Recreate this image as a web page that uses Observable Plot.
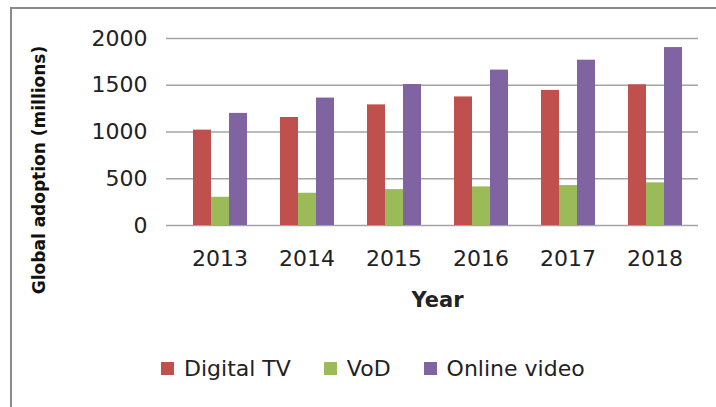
<!DOCTYPE html>
<html>
<head>
<meta charset="utf-8">
<script src="https://cdn.jsdelivr.net/npm/d3@7"></script>
<script src="https://cdn.jsdelivr.net/npm/@observablehq/plot@0.6"></script>
<style>
  html, body { margin: 0; padding: 0; background: #fff; width: 716px; height: 407px; overflow: hidden; }
  #wrap { position: relative; width: 716px; height: 407px; }
  #border { position: absolute; left: 10px; top: 7px; width: 800px; height: 500px; border: 2px solid #8a8a8a; box-sizing: border-box; }
  #chart { position: absolute; left: 0; top: 0; }
  #chart [aria-label="fx-axis label"] text { font-weight: bold; font-size: 21px; }
  #legend { position: absolute; left: 161px; top: 356px; display: flex; align-items: center; font-family: "DejaVu Sans", sans-serif; font-size: 22px; color: #222; white-space: nowrap; }
  .item { display: flex; align-items: center; margin-right: 33px; }
  .sw { width: 13px; height: 13px; margin-right: 10px; }
</style>
</head>
<body>
<div id="wrap">
  <div id="border"></div>
  <div id="chart"></div>
  <div id="legend"></div>
</div>
<script>
const years = ["2013", "2014", "2015", "2016", "2017", "2018"];
const seriesNames = ["Digital TV", "VoD", "Online video"];
const digitalTV = [1020, 1155, 1290, 1375, 1445, 1505];
const vod = [302, 345, 384, 413, 427, 456];
const onlineVideo = [1199, 1363, 1508, 1662, 1768, 1903];
const colors = ["#c0504d", "#9bbb59", "#8064a2"];
const yTicks = [0, 500, 1000, 1500, 2000];
const yLabel = "Global adoption (millions)";
const xLabel = "Year";

const valuesBySeries = [digitalTV, vod, onlineVideo];
const data = [];
years.forEach((yr, i) => {
  seriesNames.forEach((s, j) => data.push({year: yr, series: s, value: valuesBySeries[j][i]}));
});

const chart = Plot.plot({
  width: 716,
  height: 330,
  marginTop: 38,
  marginBottom: 105,
  marginLeft: 175,
  marginRight: 17,
  style: {fontFamily: "DejaVu Sans, sans-serif", fontSize: "22px", color: "#222", background: "transparent", overflow: "visible"},
  fx: {domain: years, padding: 0},
  x: {domain: seriesNames, paddingInner: 0, paddingOuter: 0.885, axis: null},
  y: {domain: [0, 2000]},
  color: {domain: seriesNames, range: colors},
  marks: [
    Plot.gridY(yTicks, {stroke: "#a3a3a3", strokeOpacity: 1, strokeWidth: 1.5}),
    Plot.barY(data, {fx: "year", x: "series", y: "value", fill: "series"}),
    Plot.axisY(yTicks, {tickSize: 10, tickPadding: 19, tickFormat: d => String(d), stroke: "#a3a3a3", fill: "#222", strokeWidth: 1.5, label: null, line: true}),
    Plot.axisFx({anchor: "bottom", tickSize: 0, tickPadding: 25, label: xLabel, labelAnchor: "center", labelOffset: 81, fill: "#222"}),
    Plot.text([{year: years[0]}], {fx: "year", text: () => yLabel, frameAnchor: "left", textAnchor: "middle", rotate: -90, dx: -137, dy: 38, fontWeight: "bold", fontSize: 17, fill: "#111"})
  ]
});
document.getElementById("chart").appendChild(chart);

const legend = document.getElementById("legend");
seriesNames.forEach((s, i) => {
  const item = document.createElement("div");
  item.className = "item";
  const sw = document.createElement("div");
  sw.className = "sw";
  sw.style.background = colors[i];
  const t = document.createElement("span");
  t.textContent = s;
  item.appendChild(sw);
  item.appendChild(t);
  legend.appendChild(item);
});
</script>
</body>
</html>
